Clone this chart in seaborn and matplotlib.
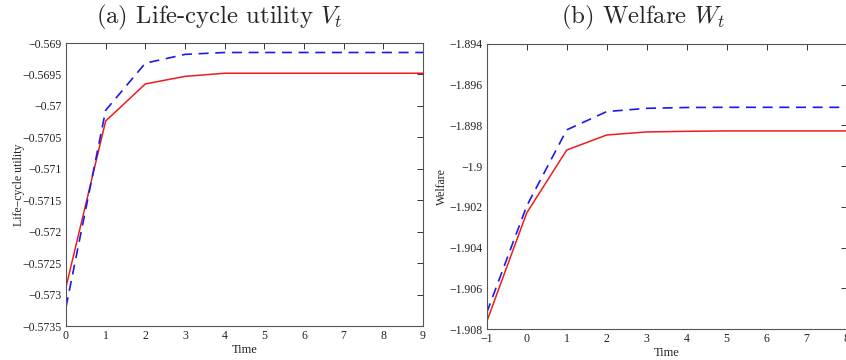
import matplotlib
matplotlib.use("Agg")
import matplotlib.pyplot as plt
import seaborn as sns
import pandas as pd

# ---- data ----
time_a = [0, 1, 2, 3, 4, 5, 6, 7, 8, 9]
utility_red = [-0.57288, -0.57024, -0.56965, -0.56953, -0.56948, -0.56948,
               -0.56948, -0.56948, -0.56948, -0.56948]
utility_blue = [-0.57320, -0.57007, -0.56932, -0.56918, -0.56915, -0.56915,
                -0.56915, -0.56915, -0.56915, -0.56915]

time_b = [-1, 0, 1, 2, 3, 4, 5, 6, 7, 8]
welfare_red = [-1.90764, -1.90230, -1.89921, -1.89847, -1.89832, -1.89829,
               -1.89827, -1.89827, -1.89827, -1.89827]
welfare_blue = [-1.90720, -1.90196, -1.89822, -1.89732, -1.89716, -1.89712,
                -1.89711, -1.89711, -1.89711, -1.89711]

yticks_a = [-0.5735, -0.573, -0.5725, -0.572, -0.5715, -0.571, -0.5705, -0.57, -0.5695, -0.569]
ytick_labels_a = ["\u22120.5735", "\u22120.573", "\u22120.5725", "\u22120.572", "\u22120.5715",
                  "\u22120.571", "\u22120.5705", "\u22120.57", "\u22120.5695", "\u22120.569"]
yticks_b = [-1.908, -1.906, -1.904, -1.902, -1.9, -1.898, -1.896, -1.894]
ytick_labels_b = ["\u22121.908", "\u22121.906", "\u22121.904", "\u22121.902", "\u22121.9",
                  "\u22121.898", "\u22121.896", "\u22121.894"]
xticks_a = list(range(0, 10))
xticks_b = list(range(-1, 9))
xtick_labels_b = ["\u22121"] + [str(v) for v in range(0, 9)]

sns.set_style("white")
plt.rcParams["mathtext.fontset"] = "cm"
plt.rcParams["font.family"] = ["Liberation Serif", "DejaVu Serif"]

fig = plt.figure(figsize=(8.46, 3.6), dpi=100)
ax1 = fig.add_axes([0.078, 0.0944, 0.422, 0.786])
ax2 = fig.add_axes([0.5753, 0.0861, 0.4255, 0.7917])

red = "#ee1c1c"
blue = "#1a1aee"

dfa = pd.DataFrame({"t": time_a, "red": utility_red, "blue": utility_blue})
dfb = pd.DataFrame({"t": time_b, "red": welfare_red, "blue": welfare_blue})

for ax, df in [(ax1, dfa), (ax2, dfb)]:
    sns.lineplot(data=df, x="t", y="red", ax=ax, color=red, linewidth=1.1)
    sns.lineplot(data=df, x="t", y="blue", ax=ax, color=blue, linewidth=1.2,
                 linestyle=(0, (6, 4)))
    ax.tick_params(direction="in", length=4, width=0.7, colors="#333333",
                   labelsize=8.5, top=True, right=True, pad=3,
                   labelcolor="#222222")
    for s in ax.spines.values():
        s.set_color("#555555")
        s.set_linewidth(0.8)
    ax.set_xlabel("Time", fontsize=9, labelpad=1, color="#222222")

ax1.set_xlim(0, 9)
ax1.set_ylim(-0.5735, -0.569)
ax1.set_xticks(xticks_a)
ax1.set_xticklabels([str(v) for v in xticks_a])
ax1.set_yticks(yticks_a)
ax1.set_yticklabels(ytick_labels_a)
ax1.set_ylabel("Life\u2212cycle utility", fontsize=8.5, labelpad=-2, color="#222222")

ax2.set_xlim(-1, 8)
ax2.set_ylim(-1.908, -1.894)
ax2.set_xticks(xticks_b)
ax2.set_xticklabels(xtick_labels_b)
ax2.set_yticks(yticks_b)
ax2.set_yticklabels(ytick_labels_b)
ax2.set_ylabel("Welfare", fontsize=8.5, labelpad=1, color="#222222")

fig.text(0.259, 0.951, r"(a) Life-cycle utility $V_t$", ha="center", va="center",
         fontsize=17.8, family="cmr10")
fig.text(0.760, 0.951, r"(b) Welfare $W_t$", ha="center", va="center",
         fontsize=17.8, family="cmr10")

fig.savefig("out.png", dpi=100)
